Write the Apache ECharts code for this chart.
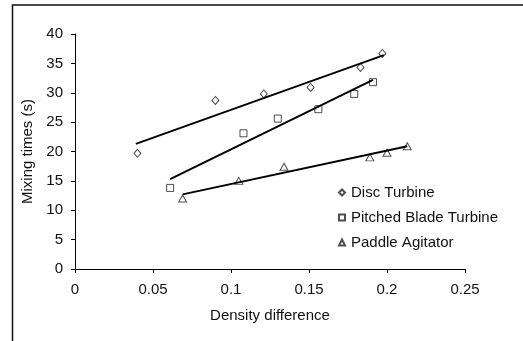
<!DOCTYPE html>
<html>
<head>
<meta charset="utf-8">
<script src="https://cdn.jsdelivr.net/npm/echarts@6/dist/echarts.min.js"></script>
<style>
  html, body { margin: 0; padding: 0; background: #fff; }
  #chart { width: 523px; height: 341px; }
</style>
</head>
<body>
<div id="chart"></div>
<script>
// Measured points (density difference, mixing time in s)
const discX = [0.040, 0.090, 0.121, 0.151, 0.183, 0.197]
const discY = [19.7, 28.7, 29.8, 30.9, 34.3, 36.7]
const pitchedX = [0.061, 0.108, 0.130, 0.156, 0.179, 0.191]
const pitchedY = [13.8, 23.1, 25.6, 27.2, 29.8, 31.8]
const paddleX = [0.069, 0.105, 0.134, 0.189, 0.200, 0.213]
const paddleY = [12.0, 15.0, 17.4, 19.0, 19.8, 20.9]

// Trend line end points
const discTrendX = [0.039, 0.198]
const discTrendY = [21.3, 36.4]
const pitchedTrendX = [0.061, 0.191]
const pitchedTrendY = [15.3, 32.2]
const paddleTrendX = [0.069, 0.213]
const paddleTrendY = [12.7, 20.9]

const seriesNames = ['Disc Turbine', 'Pitched Blade Turbine', 'Paddle Agitator']
const xTicks = [0, 0.05, 0.1, 0.15, 0.2, 0.25]
const yTicks = [0, 5, 10, 15, 20, 25, 30, 35, 40]

const zip = (xs, ys) => xs.map((x, i) => [x, ys[i]])

const font = 'Liberation Sans, Arial, sans-serif'

const chart = echarts.init(document.getElementById('chart'), null, { renderer: 'canvas' })

const markerStyle = {
  color: '#fff',
  borderColor: '#222',
  borderWidth: 1
}

const scatter = (name, xs, ys, symbol, size) => ({
  name: name,
  type: 'scatter',
  data: zip(xs, ys),
  symbol: symbol,
  symbolSize: size,
  itemStyle: markerStyle,
  z: 2
})

const trend = (xs, ys) => ({
  type: 'line',
  data: zip(xs, ys),
  showSymbol: false,
  symbol: 'none',
  lineStyle: { color: '#000', width: 2 },
  silent: true,
  z: 3
})

const option = {
  animation: false,
  backgroundColor: '#fff',
  textStyle: { fontFamily: font },
  graphic: [
    {
      type: 'polyline',
      shape: { points: [[12.5, 341], [12.5, 5], [523, 5]] },
      style: { stroke: '#111', lineWidth: 1.5, fill: null }
    }
  ],
  grid: {
    left: 75,
    top: 34,
    right: 58,
    bottom: 72
  },
  legend: {
    data: seriesNames,
    orient: 'vertical',
    left: 333,
    top: 180,
    itemGap: 10,
    itemWidth: 6,
    itemHeight: 6,
    textStyle: { fontFamily: font, fontSize: 15, color: '#111', padding: [0, 0, 0, 1] }
  },
  xAxis: {
    type: 'value',
    min: xTicks[0],
    max: xTicks[xTicks.length - 1],
    interval: 0.05,
    name: 'Density difference',
    nameLocation: 'middle',
    nameGap: 39,
    nameTextStyle: { fontFamily: font, fontSize: 15, color: '#111' },
    axisLine: { show: true, lineStyle: { color: '#000', width: 1 } },
    axisTick: { show: true, inside: false, length: 4, lineStyle: { color: '#000' } },
    axisLabel: { fontFamily: font, fontSize: 15, color: '#111', margin: 13 },
    splitLine: { show: false }
  },
  yAxis: {
    type: 'value',
    min: yTicks[0],
    max: yTicks[yTicks.length - 1],
    interval: 5,
    name: 'Mixing times (s)',
    nameLocation: 'middle',
    nameGap: 40,
    nameTextStyle: { fontFamily: font, fontSize: 15, color: '#111' },
    axisLine: { show: true, lineStyle: { color: '#000', width: 1 } },
    axisTick: { show: true, inside: false, length: 4, lineStyle: { color: '#000' } },
    axisLabel: { fontFamily: font, fontSize: 15, color: '#111', margin: 12 },
    splitLine: { show: false }
  },
  series: [
    scatter(seriesNames[0], discX, discY, 'diamond', [7, 8]),
    scatter(seriesNames[1], pitchedX, pitchedY, 'rect', 7),
    scatter(seriesNames[2], paddleX, paddleY, 'triangle', [8, 7]),
    trend(discTrendX, discTrendY),
    trend(pitchedTrendX, pitchedTrendY),
    trend(paddleTrendX, paddleTrendY)
  ]
}

chart.setOption(option)
</script>
</body>
</html>
